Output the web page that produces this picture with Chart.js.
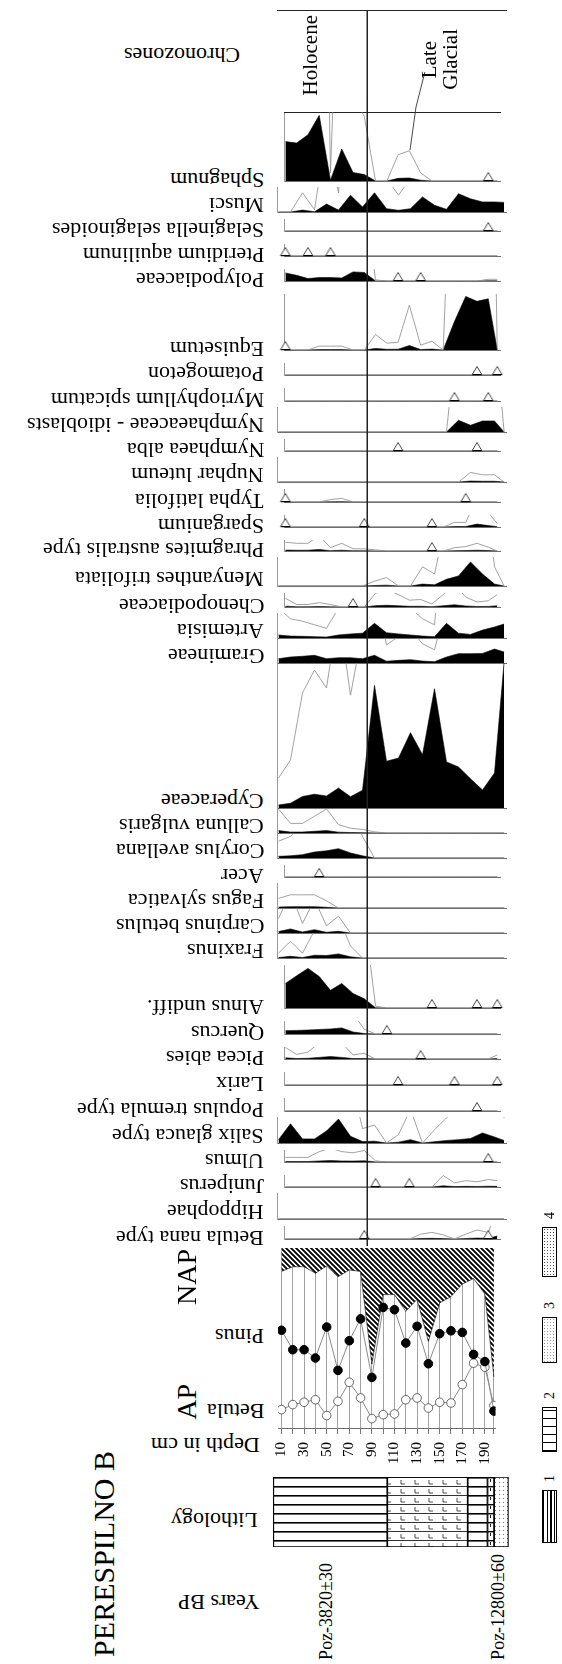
<!DOCTYPE html>
<html lang="en">
<head>
<meta charset="UTF-8" />
<title>Perespilno B - pollen diagram</title>
<script src="https://cdn.jsdelivr.net/npm/chart.js"></script>
<style>
  html, body { margin: 0; padding: 0; background: #fff; }
  #page { position: relative; width: 562px; height: 1664px; overflow: hidden; font-family: "Liberation Serif", "Times New Roman", serif; color: #000; }
  #page canvas { position: absolute; }
  .ud { position: absolute; white-space: nowrap; transform: rotate(180deg); }
  .vt { position: absolute; white-space: nowrap; writing-mode: vertical-rl; text-orientation: sideways; transform: rotate(180deg); }
  .swatch { position: absolute; border: 1px solid #000; box-sizing: border-box; }
</style>
</head>
<body>
<div id="page"></div>

<script>
// sample depths (cm) and percentage values
const DEPTHS = [10, 20, 30, 40, 50, 60, 70, 80, 90, 100, 110, 120, 130, 140, 150, 160, 170, 180, 190, 198];
const DEPTH_LABELS = [10, 30, 50, 70, 90, 110, 130, 150, 170, 190];

const pinus  = [54.3, 43.5, 43.5, 38.9, 56.1, 32.0, 48.5, 60.6, 28.1, 67.0, 65.7, 47.2, 56.5, 35.7, 52.4, 54.0, 53.1, 40.9, 36.9, 9.4];
const betula = [10.2, 13.0, 14.3, 15.7, 6.9, 14.8, 25.4, 16.7, 5.2, 7.4, 7.8, 15.7, 16.7, 11.1, 14.3, 13.9, 24.1, 36.0, 33.8, 12.5];
const apSum  = [87.0, 89.6, 89.6, 86.0, 90.0, 84.0, 87.8, 87.0, 35.5, 74.1, 74.1, 64.8, 71.5, 48.1, 69.5, 73.0, 80.0, 83.0, 74.5, 28.4];

const sphagnum      = [19.5, 18.8, 22.9, 32.5, 0.4, 15.8, 4.2, 3.2, 0, 0, 1.3, 1.5, 0.4, 0, 0, 0, 0, 0, 0, 0];
const musci         = [0, 0, 0.8, 0.1, 3.3, 0.8, 7.0, 2.1, 8.0, 1.4, 0.7, 1.4, 6.3, 2.8, 1.1, 7.6, 5.5, 4.2, 4.2, 4.0];
const selaginella   = [0, 0, 0, 0, 0, 0, 0, 0, 0, 0, 0, 0, 0, 0, 0, 0, 0, 0, 0, 0];
const pteridium     = [0, 0, 0, 0, 0, 0, 0, 0, 0, 0, 0, 0, 0, 0, 0, 0, 0, 0, 0, 0];
const polypodiaceae = [7.0, 4.9, 2.1, 3.0, 3.0, 2.6, 7.9, 7.4, 0.1, 0, 0, 0, 0, 0, 0, 0, 0, 0, 0.15, 0.15];
const equisetum     = [0, 0, 0, 0.2, 0.2, 0.2, 0, 0, 0.8, 0.35, 0.4, 2.3, 0.25, 0.45, 0, 14.6, 27.5, 25.0, 26.3, 0];
const potamogeton   = [0, 0, 0, 0, 0, 0, 0, 0, 0, 0, 0, 0, 0, 0, 0, 0, 0, 0, 0, 0];
const myriophyllum  = [0, 0, 0, 0, 0, 0, 0, 0, 0, 0, 0, 0, 0, 0, 0, 0, 0, 0, 0, 0];
const nymphIdio     = [0, 0, 0, 0, 0, 0, 0, 0, 0, 0, 0, 0, 0, 0, 0, 4.9, 2.8, 4.6, 4.6, 0];
const nymphaea      = [0, 0, 0, 0, 0, 0, 0, 0, 0, 0, 0, 0, 0, 0, 0, 0, 0, 0, 0, 0];
const nuphar        = [0, 0, 0, 0, 0, 0, 0, 0, 0, 0, 0, 0, 0, 0, 0, 0, 0.4, 0.3, 0.3, 0];
const typha         = [0, 0, 0, 0, 0.2, 0.3, 0, 0, 0, 0, 0, 0, 0, 0, 0, 0, 0, 0, 0, 0];
const sparganium    = [0, 0, 0, 0, 0, 0, 0, 0, 0, 0, 0, 0, 0, 0, 0, 0.4, 0.4, 2.5, 1.25, 0.3];
const phragmites    = [0.8, 0.7, 0.7, 1.4, 0.3, 0.7, 0.2, 0.2, 0.1, 0, 0, 0, 0, 0, 0, 0.3, 0.4, 0.7, 0.35, 0];
const menyanthes    = [0, 0, 0, 0, 0, 0, 0, 0, 0.2, 0.35, 0, 0, 0.8, 0.5, 2.8, 4.2, 10.0, 5.0, 0.8, 0];
const chenopodiaceae = [0.7, 0.2, 0.2, 0.35, 0.2, 0, 0, 0, 1.1, 1.4, 1.0, 0.55, 0.6, 0.25, 1.0, 1.8, 0.8, 0.4, 0.5, 1.0];
const artemisia     = [1.25, 0.8, 0.7, 0.55, 0.4, 1.25, 1.7, 2.0, 6.1, 2.2, 1.7, 1.25, 0.8, 0.55, 6.1, 2.0, 1.5, 3.3, 4.6, 5.8];
const gramineae     = [1.8, 2.5, 2.8, 3.2, 1.8, 2.2, 2.2, 1.8, 3.2, 0.75, 1.1, 1.4, 0.8, 0.55, 2.5, 3.9, 3.9, 4.0, 5.8, 4.6];
const cyperaceae    = [1.25, 2.0, 4.8, 5.75, 5.0, 8.3, 4.7, 7.4, 51.1, 19.5, 20.8, 31.4, 22.2, 49.7, 19.2, 17.1, 12.2, 7.5, 14.6, 60.8];
const calluna       = [1.0, 0.4, 0.4, 0.7, 1.0, 0.35, 0.2, 0.15, 0.05, 0, 0, 0, 0, 0, 0, 0, 0, 0, 0, 0];
const corylus       = [0.7, 0.9, 1.4, 2.5, 3.0, 3.9, 2.1, 0.9, 0, 0, 0, 0, 0, 0, 0, 0, 0, 0, 0, 0];
const acer          = [0, 0, 0, 0, 0, 0, 0, 0, 0, 0, 0, 0, 0, 0, 0, 0, 0, 0, 0, 0];
const fagus         = [0.4, 0.55, 0.55, 0.55, 0.3, 0, 0, 0, 0, 0, 0, 0, 0, 0, 0, 0, 0, 0, 0, 0];
const carpinus      = [0.6, 1.7, 0.4, 1.4, 0.3, 0.7, 0, 0, 0, 0, 0, 0, 0, 0, 0, 0, 0, 0, 0, 0];
const fraxinus      = [0.2, 0.7, 0.2, 1.15, 1.05, 1.7, 0.5, 0, 0, 0, 0, 0, 0, 0, 0, 0, 0, 0, 0, 0];
const alnus         = [13.3, 17.5, 21.5, 17.1, 9.6, 13.3, 7.9, 5.0, 0.1, 0, 0, 0, 0, 0, 0, 0, 0, 0, 0, 0];
const quercus       = [2.8, 3.0, 3.3, 3.75, 4.2, 5.1, 1.7, 0.4, 0, 0, 0, 0, 0, 0, 0, 0, 0, 0, 0, 0];
const picea         = [1.0, 0.4, 0.6, 1.4, 2.1, 1.4, 0.35, 0.5, 0, 0, 0, 0, 0, 0, 0, 0, 0, 0, 0, 0.35];
const larix         = [0, 0, 0, 0, 0, 0, 0, 0, 0, 0, 0, 0, 0, 0, 0, 0, 0, 0, 0, 0];
const populus       = [0, 0, 0, 0, 0, 0, 0, 0, 0, 0, 0, 0, 0, 0, 0, 0, 0, 0, 0, 0];
const salix         = [1.4, 8.0, 1.7, 1.7, 5.0, 10.0, 2.8, 0.6, 0.75, 0, 0.35, 1.4, 0, 0.55, 1.05, 1.4, 1.9, 4.2, 2.5, 1.05];
const ulmus         = [0.4, 0.4, 0.4, 0.9, 1.2, 0.9, 0.8, 1.0, 0.1, 0, 0, 0, 0, 0, 0, 0, 0, 0, 0, 0];
const juniperus     = [0, 0, 0, 0, 0, 0, 0, 0, 0, 0, 0, 0, 0, 0, 1.0, 0.35, 0.55, 0.45, 0.65, 0.55];
const hippophae     = [0, 0, 0, 0, 0, 0, 0, 0, 0, 0, 0, 0, 0, 0, 0, 0, 0, 0, 0, 0];
const betulaNana    = [0, 0, 0, 0, 0, 0, 0, 0, 0, 0, 0, 0, 0.4, 0.55, 0.35, 0, 0.4, 0.75, 0.55, 2.5];

// depths with single grains (open triangles)
const sphagnumRare = [190];
const selaginellaRare = [190];
const pteridiumRare = [10, 30, 50];
const polypodiaceaeRare = [110, 130];
const equisetumRare = [10];
const potamogetonRare = [180, 198];
const myriophyllumRare = [160, 190];
const nymphaeaRare = [110, 180];
const typhaRare = [10, 170];
const sparganiumRare = [10, 80, 140];
const phragmitesRare = [140];
const chenopodiaceaeRare = [70];
const acerRare = [40];
const alnusRare = [140, 180, 198];
const quercusRare = [100];
const piceaRare = [130];
const larixRare = [110, 160, 198];
const populusRare = [180];
const ulmusRare = [190];
const juniperusRare = [90, 120];
const betulaNanaRare = [80, 190];

// lithology units: [from, to] depth in cm
const lithPeat = [[3, 98], [165, 181.5]];
const lithGyttja = [[98, 165]];
const lithMixed = [[181.5, 187]];
const lithSand = [[187, 199]];

const HOLOCENE_LIMIT = 84;
const EXAG = 10;

const TAXA = [
  ["Sphagnum", sphagnum, sphagnumRare],
  ["Musci", musci, []],
  ["Selaginella selaginoides", selaginella, selaginellaRare],
  ["Pteridium aquilinum", pteridium, pteridiumRare],
  ["Polypodiaceae", polypodiaceae, polypodiaceaeRare],
  ["Equisetum", equisetum, equisetumRare],
  ["Potamogeton", potamogeton, potamogetonRare],
  ["Myriophyllum spicatum", myriophyllum, myriophyllumRare],
  ["Nymphaeaceae - idioblasts", nymphIdio, []],
  ["Nymphaea alba", nymphaea, nymphaeaRare],
  ["Nuphar luteum", nuphar, []],
  ["Typha latifolia", typha, typhaRare],
  ["Sparganium", sparganium, sparganiumRare],
  ["Phragmites australis type", phragmites, phragmitesRare],
  ["Menyanthes trifoliata", menyanthes, []],
  ["Chenopodiaceae", chenopodiaceae, chenopodiaceaeRare],
  ["Artemisia", artemisia, []],
  ["Gramineae", gramineae, []],
  ["Cyperaceae", cyperaceae, []],
  ["Calluna vulgaris", calluna, []],
  ["Corylus avellana", corylus, []],
  ["Acer", acer, acerRare],
  ["Fagus sylvatica", fagus, []],
  ["Carpinus betulus", carpinus, []],
  ["Fraxinus", fraxinus, []],
  ["Alnus undiff.", alnus, alnusRare],
  ["Quercus", quercus, quercusRare],
  ["Picea abies", picea, piceaRare],
  ["Larix", larix, larixRare],
  ["Populus tremula type", populus, populusRare],
  ["Salix glauca type", salix, []],
  ["Ulmus", ulmus, ulmusRare],
  ["Juniperus", juniperus, juniperusRare],
  ["Hippophae", hippophae, []],
  ["Betula nana type", betulaNana, betulaNanaRare],
];

// layout (page pixels)
const STRIP_TOP = 105;
const BASELINES = [187, 212, 237, 262, 287, 356, 381, 407, 432, 457, 482, 508, 533, 557, 586, 613, 638, 663,
                   808, 833, 858, 883, 908, 933, 958, 1014, 1040, 1065, 1091, 1117, 1143, 1168, 1193, 1219, 1245];
const PX_PER_PCT = 2.4;
const STRIP_LEFT = 277, STRIP_RIGHT = 507;
const stripDepth = px => 10 + (px - 278.5) / 1.2;
const apDepth = px => 10 + (px - 281.7) / 1.2;
const SERIF = "'Liberation Serif', 'Times New Roman', serif";
const LABEL_SIZE = 22;

const page = document.getElementById("page");

function addCanvas(left, top, w, h) {
  const c = document.createElement("canvas");
  c.width = w; c.height = h;
  c.style.left = left + "px"; c.style.top = top + "px";
  c.style.width = w + "px"; c.style.height = h + "px";
  page.appendChild(c);
  return c;
}

// upside-down label: first letter at `right`, cap line at `capTop`
function udLabel(text, right, capTop, size) {
  const el = document.createElement("div");
  el.className = "ud";
  el.textContent = text;
  el.style.fontSize = size + "px";
  el.style.lineHeight = size + "px";
  el.style.height = size + "px";
  el.style.right = (562 - right) + "px";
  el.style.top = (capTop - size * 0.825) + "px";
  page.appendChild(el);
}

// text reading bottom to top, starting at `bottom`
function vtLabel(text, left, bottom, size) {
  const el = document.createElement("div");
  el.className = "vt";
  el.textContent = text;
  el.style.fontSize = size + "px";
  el.style.lineHeight = size + "px";
  el.style.left = left + "px";
  el.style.bottom = (1664 - bottom) + "px";
  page.appendChild(el);
}

function makePattern(w, h, draw) {
  const t = document.createElement("canvas");
  t.width = w; t.height = h;
  const g = t.getContext("2d");
  g.fillStyle = "#fff";
  g.fillRect(0, 0, w, h);
  draw(g, w, h);
  return g.createPattern(t, "repeat");
}

const HATCH = makePattern(5, 5, (g, w, h) => {
  g.strokeStyle = "#000"; g.lineWidth = 1.9;
  g.beginPath();
  g.moveTo(-1, -1); g.lineTo(w + 1, h + 1);
  g.moveTo(-1, h - 1); g.lineTo(1, h + 1);
  g.moveTo(w - 1, -1); g.lineTo(w + 1, 1);
  g.stroke();
});
const PEAT = makePattern(8, 9, (g, w) => { g.fillStyle = "#000"; g.fillRect(0, 0, w, 1.6); });
const GYTTJA = makePattern(14, 9, (g, w) => {
  g.fillStyle = "#000"; g.fillRect(0, 0, w, 0.8);
  g.strokeStyle = "#222"; g.lineWidth = 0.8;
  g.beginPath(); g.moveTo(5, 3); g.lineTo(5, 7); g.lineTo(9, 7); g.stroke();
});
const MIXED = makePattern(7, 9, (g, w) => {
  g.fillStyle = "#000"; g.fillRect(0, 0, w, 1.4);
  g.fillRect(3, 2, 0.9, 3);
});
const SAND = makePattern(4, 4, (g) => { g.fillStyle = "#777"; g.fillRect(1, 1, 1, 1); });

// single-grain marker: open triangle sitting on the baseline
const MARKER = (() => {
  const c = document.createElement("canvas");
  c.width = 12; c.height = 22;
  const g = c.getContext("2d");
  g.fillStyle = "#fff"; g.strokeStyle = "#333"; g.lineWidth = 0.9;
  g.beginPath(); g.moveTo(6, 2.5); g.lineTo(10.8, 10.6); g.lineTo(1.2, 10.6); g.closePath();
  g.fill(); g.stroke();
  g.fillStyle = "#000"; g.fillRect(1.5, 10, 9, 1.2);
  return c;
})();

const baseOptions = () => ({
  responsive: false,
  animation: false,
  devicePixelRatio: 1,
  events: [],
  plugins: { legend: { display: false }, tooltip: { enabled: false } },
});

const zeroHeight = s => { s.height = 0; };
const zeroWidth = s => { s.width = 0; };

// ---- taxon strips ----
TAXA.forEach(([name, vals, rare], i) => {
  const top = i === 0 ? STRIP_TOP : BASELINES[i - 1];
  const base = BASELINES[i];
  const h = base - top;
  const canvas = addCanvas(STRIP_LEFT, top, STRIP_RIGHT - STRIP_LEFT, h + 1);
  const opts = baseOptions();
  opts.layout = { padding: { bottom: 1 } };
  opts.scales = {
    x: { type: "linear", min: stripDepth(STRIP_LEFT), max: stripDepth(STRIP_RIGHT), position: "bottom",
         grid: { display: false }, ticks: { display: false },
         border: { display: true, color: "#6f6f6f", width: 1 }, afterFit: zeroHeight },
    y: { type: "linear", min: 0, max: h / PX_PER_PCT,
         grid: { display: false }, ticks: { display: false },
         border: { display: true, color: "#9a9a9a", width: 1, dash: [1, 2] }, afterFit: zeroWidth },
  };
  if (i === 0) {
    opts.scales.xTop = { type: "linear", min: stripDepth(STRIP_LEFT), max: stripDepth(STRIP_RIGHT), position: "top",
      grid: { display: false }, ticks: { display: false },
      border: { display: true, color: "#222", width: 1 }, afterFit: zeroHeight };
  }
  new Chart(canvas, {
    type: "line",
    data: {
      datasets: [
        { data: rare.map(d => ({ x: d, y: 0 })), showLine: false, pointStyle: MARKER, pointRadius: 6, order: 0, clip: false },
        { data: DEPTHS.map((d, k) => ({ x: d, y: vals[k] * EXAG })), borderColor: "#8a8a8a", borderWidth: 0.8,
          pointRadius: 0, fill: false, order: 1 },
        { data: DEPTHS.map((d, k) => ({ x: d, y: vals[k] })), borderColor: "#000", borderWidth: 0.6,
          backgroundColor: "#000", pointRadius: 0, fill: "origin", order: 2 },
      ],
    },
    options: opts,
  });
  udLabel(name, 264, base, LABEL_SIZE);
});

// ---- chronozone frame and Holocene / Late Glacial boundary ----
(() => {
  const top = 10, bottom = 1246;
  const canvas = addCanvas(STRIP_LEFT, top, STRIP_RIGHT - STRIP_LEFT, bottom - top);
  const opts = baseOptions();
  opts.scales = {
    x: { type: "linear", min: stripDepth(STRIP_LEFT), max: stripDepth(STRIP_RIGHT), position: "top",
         grid: { display: false }, ticks: { display: false },
         border: { display: true, color: "#222", width: 1 }, afterFit: zeroHeight },
    y: { type: "linear", min: 0, max: bottom - top, reverse: true, display: false },
  };
  new Chart(canvas, {
    type: "line",
    data: {
      datasets: [
        { data: [{ x: HOLOCENE_LIMIT, y: 0 }, { x: HOLOCENE_LIMIT, y: bottom - top }], borderColor: "#222",
          borderWidth: 1, pointRadius: 0 },
        { data: [{ x: 132, y: 62 }, { x: 124.6, y: 97 }, { x: 119.6, y: 140 }], borderColor: "#333",
          borderWidth: 0.9, pointRadius: 0 },
      ],
    },
    options: opts,
  });
})();

// ---- AP / NAP summary with Pinus and Betula ----
(() => {
  const left = 268, top = 1240, w = 252, h = 235;
  const canvas = addCanvas(left, top, w, h);
  const opts = baseOptions();
  opts.layout = { padding: { left: 10, right: 11, top: 8, bottom: 0 } };
  opts.scales = {
    x: {
      type: "linear", min: apDepth(278), max: apDepth(509), position: "bottom",
      afterBuildTicks: s => { s.ticks = DEPTHS.map(v => ({ value: v })); },
      ticks: { autoSkip: false, minRotation: 90, maxRotation: 90, padding: 8, color: "#000",
               font: { family: SERIF, size: 15 },
               callback: v => (DEPTH_LABELS.includes(v) ? String(v) : "") },
      grid: { color: "#8c8c8c", lineWidth: 0.8, tickLength: 6, tickColor: "#555" },
      border: { color: "#6f6f6f", width: 1 },
      afterFit: s => { s.height = 47; },
    },
    y: { type: "linear", min: 0, max: 100, display: false },
  };
  new Chart(canvas, {
    type: "line",
    data: {
      datasets: [
        { label: "Pinus", data: DEPTHS.map((d, k) => ({ x: d, y: pinus[k] })), borderColor: "#8a8a8a", borderWidth: 1,
          pointRadius: 4.3, pointBackgroundColor: "#000", pointBorderColor: "#000", order: 0 },
        { label: "Betula", data: DEPTHS.map((d, k) => ({ x: d, y: betula[k] })), borderColor: "#8a8a8a", borderWidth: 1,
          pointRadius: 4.3, pointBackgroundColor: "#fff", pointBorderColor: "#444", pointBorderWidth: 0.8, order: 1 },
        { label: "AP", data: DEPTHS.map((d, k) => ({ x: d, y: apSum[k] })), borderColor: "#000", borderWidth: 0.6,
          backgroundColor: HATCH, fill: "end", pointRadius: 0, order: 3 },
      ],
    },
    options: opts,
  });
})();

// ---- lithology column ----
(() => {
  const left = 270, top = 1477, w = 242, h = 70;
  const canvas = addCanvas(left, top, w, h);
  const opts = baseOptions();
  opts.indexAxis = "y";
  opts.scales = {
    x: { type: "linear", min: apDepth(left), max: apDepth(left + w), display: false },
    y: { type: "category", display: false },
  };
  const unit = (ranges, fill) => ({
    data: ranges, backgroundColor: fill, borderColor: "#000", borderWidth: 1.2, borderSkipped: false,
    barPercentage: 1, categoryPercentage: 1, grouped: false,
  });
  new Chart(canvas, {
    type: "bar",
    data: {
      labels: ["core"],
      datasets: [
        unit([lithPeat[0]], PEAT), unit([lithPeat[1]], PEAT), unit(lithGyttja, GYTTJA),
        unit(lithMixed, MIXED), unit(lithSand, SAND),
      ],
    },
    options: opts,
  });
})();

// ---- texts ----
vtLabel("PERESPILNO B", 89, 1657, 30);
udLabel("Chronozones", 240, 62, LABEL_SIZE);
udLabel("Lithology", 258, 1527, LABEL_SIZE);
udLabel("Depth in cm", 260, 1452, LABEL_SIZE);
udLabel("Years BP", 260, 1609, LABEL_SIZE);
udLabel("Betula", 264, 1418, LABEL_SIZE);
udLabel("Pinus", 264, 1343, LABEL_SIZE);
vtLabel("AP", 173, 1420, 28);
vtLabel("NAP", 173, 1305, 28);
vtLabel("Holocene", 300, 95, 21);
vtLabel("Late", 419, 78, 21);
vtLabel("Glacial", 440, 90, 21);
vtLabel("Poz-3820±30", 317, 1660, 18);
vtLabel("Poz-12800±60", 489, 1660, 18);

// ---- lithology legend ----
const LEGEND = [
  ["4", 1227, 1277, "radial-gradient(#555 0.7px, transparent 1px) 0 0 / 3px 3px, #fff"],
  ["3", 1317, 1363, "radial-gradient(#999 0.6px, transparent 0.9px) 0 0 / 3px 3px, #fff"],
  ["2", 1407, 1452, "repeating-linear-gradient(0deg, #000 0 1px, transparent 1px 8px), #fff"],
  ["1", 1490, 1543, "repeating-linear-gradient(90deg, #000 0 1.4px, #fff 1.4px 3.6px)"],
];
LEGEND.forEach(([n, y0, y1, bg]) => {
  const s = document.createElement("div");
  s.className = "swatch";
  s.style.left = "542px"; s.style.top = y0 + "px";
  s.style.width = "15px"; s.style.height = (y1 - y0) + "px";
  s.style.background = bg;
  page.appendChild(s);
  vtLabel(n, 543, y0 - 8, 14);
});
</script>
</body>
</html>
